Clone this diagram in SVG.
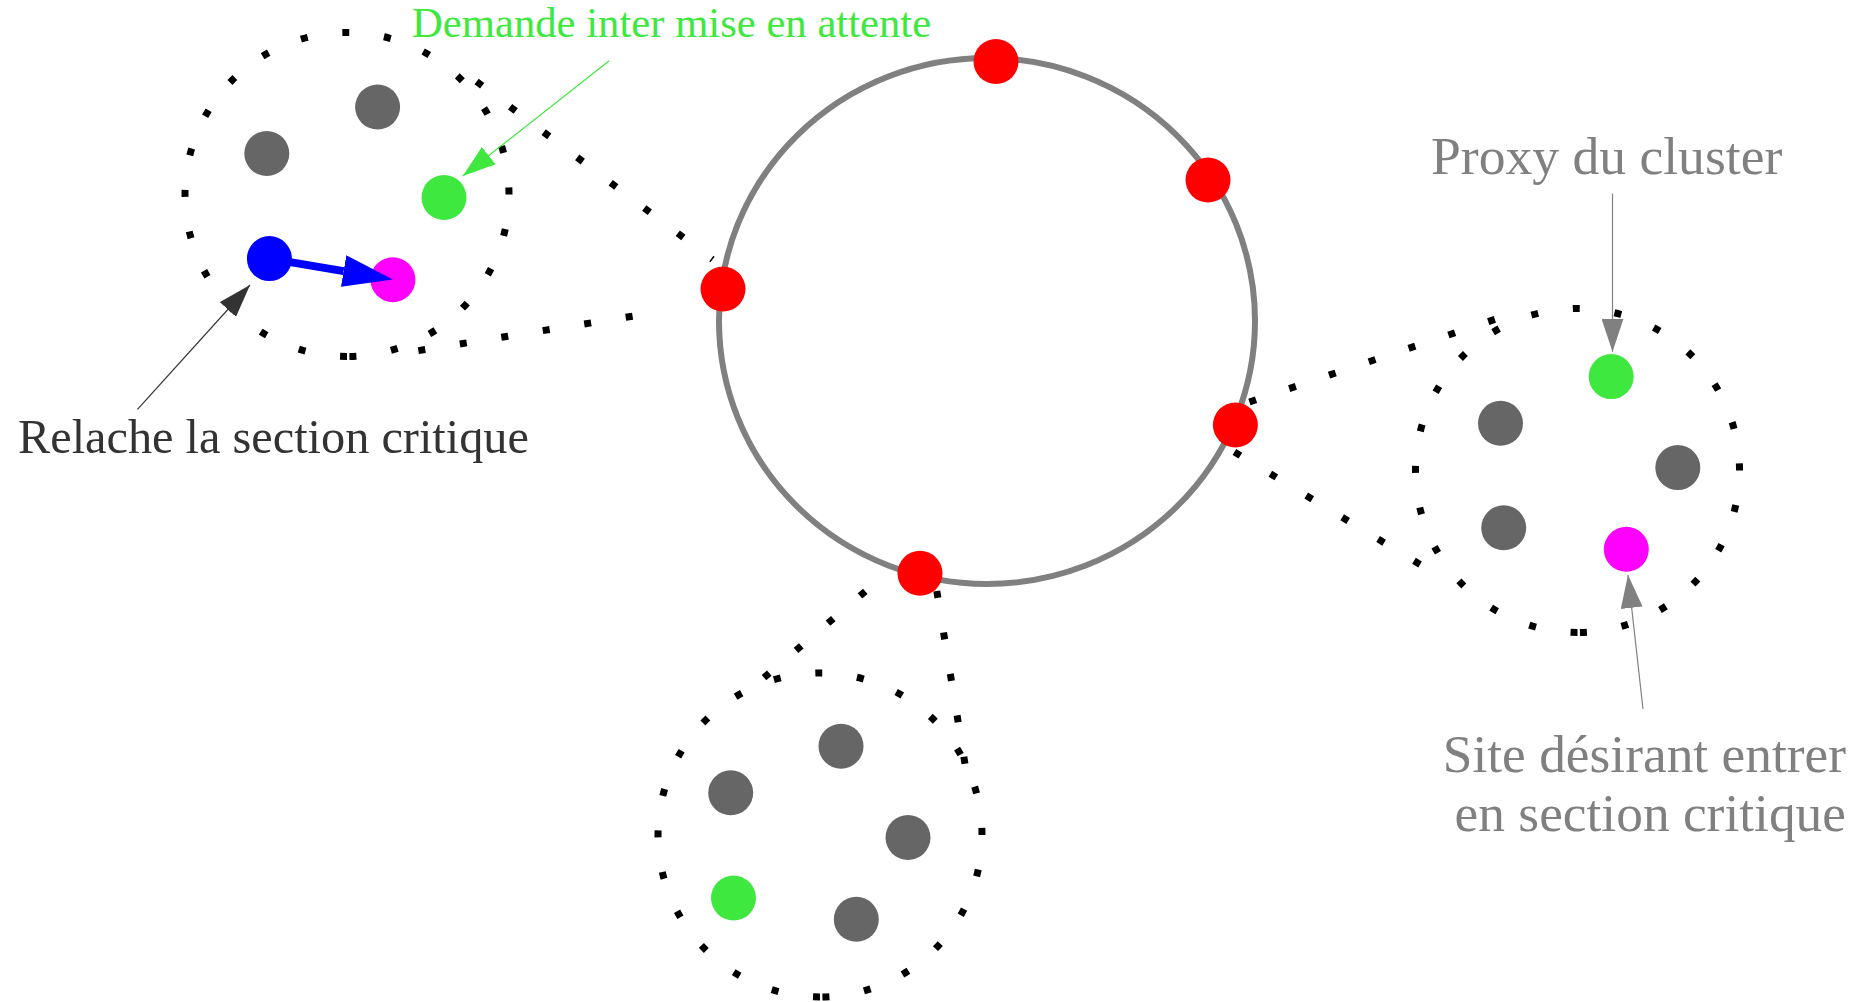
<svg xmlns="http://www.w3.org/2000/svg" width="1860" height="1002" viewBox="0 0 1860 1002">
  <style>
    .ring { fill: none; stroke: #808080; stroke-width: 6; }
    .dots { fill: none; stroke: #000; stroke-width: 7; stroke-dasharray: 7 35; }
    .ringnode { fill: #ff0000; }
    .site { fill: #666666; }
    .proxy { fill: #3ee83e; }
    .holder { fill: #0000ff; }
    .asker { fill: #ff00ff; }
    .label { font-family: "Liberation Serif", "Times New Roman", serif; }
  </style>
  <defs>
    <marker id="headGreen" viewBox="0 0 33 22" refX="33" refY="11" markerWidth="33" markerHeight="22" markerUnits="userSpaceOnUse" orient="auto">
      <path d="M0,0 L33,11 L0,22 Z" fill="#3ee83e"/>
    </marker>
    <marker id="headDark" viewBox="0 0 33 22" refX="33" refY="11" markerWidth="33" markerHeight="22" markerUnits="userSpaceOnUse" orient="auto">
      <path d="M0,0 L33,11 L0,22 Z" fill="#333333"/>
    </marker>
    <marker id="headGray" viewBox="0 0 33 22" refX="33" refY="11" markerWidth="33" markerHeight="22" markerUnits="userSpaceOnUse" orient="auto">
      <path d="M0,0 L33,11 L0,22 Z" fill="#808080"/>
    </marker>
    <marker id="headBlue" viewBox="0 0 50 32" refX="0" refY="16" markerWidth="50" markerHeight="32" markerUnits="userSpaceOnUse" orient="auto">
      <path d="M0,0 L50,16 L0,32 Z" fill="#0000ff"/>
    </marker>
  </defs>

  <!-- inter-cluster token ring -->
  <g id="ring">
    <ellipse class="ring" cx="987" cy="321" rx="268" ry="263"/>
  </g>

  <!-- cluster outlines: dotted circle plus two tangents to the proxy on the ring -->
  <g id="clusters">
    <g id="cluster-left">
      <path class="dots" d="M347,356.5 A162,162 0 1 1 347,32.5 A162,162 0 1 1 347,356.5"/>
      <path class="dots" d="M712.5,259.5 L472.6,78.5" stroke-dashoffset="5.5"/>
      <path class="dots" d="M632.6,316.2 L416,351"/>
    </g>
    <g id="cluster-right">
      <path class="dots" d="M1577.5,632.5 A162,162 0 1 1 1577.5,308.5 A162,162 0 1 1 1577.5,632.5"/>
      <path class="dots" d="M1249.4,402 L1497,318.6"/>
      <path class="dots" d="M1234.4,452 L1422,565.6"/>
    </g>
    <g id="cluster-bottom">
      <path class="dots" d="M820,997 A162,162 0 1 1 820,673 A162,162 0 1 1 820,997"/>
      <path class="dots" d="M865.3,591.4 L762.1,679.2"/>
      <path class="dots" d="M936.8,591 L965,764"/>
    </g>
  </g>

  <!-- nodes -->
  <g id="ring-node-top"><circle class="ringnode" cx="996" cy="61.5" r="22.5"/></g>
  <g id="ring-node-upper-right"><circle class="ringnode" cx="1208" cy="180" r="22.5"/></g>
  <g id="ring-node-left"><circle class="ringnode" cx="723" cy="289" r="22.5"/></g>
  <g id="ring-node-right"><circle class="ringnode" cx="1235.4" cy="425" r="22.5"/></g>
  <g id="ring-node-bottom"><circle class="ringnode" cx="920" cy="573.3" r="22.5"/></g>

  <g id="left-site-1"><circle class="site" cx="377.6" cy="107" r="22.5"/></g>
  <g id="left-site-2"><circle class="site" cx="266.8" cy="153.5" r="22.5"/></g>
  <g id="left-proxy"><circle class="proxy" cx="444" cy="197.5" r="22.5"/></g>
  <g id="left-holder"><circle class="holder" cx="269.4" cy="258.6" r="22.5"/></g>
  <g id="left-asker"><circle class="asker" cx="392.9" cy="279.7" r="22.5"/></g>

  <g id="right-proxy"><circle class="proxy" cx="1611.2" cy="376.6" r="22.5"/></g>
  <g id="right-site-1"><circle class="site" cx="1500.5" cy="423.3" r="22.5"/></g>
  <g id="right-site-2"><circle class="site" cx="1677.8" cy="467.6" r="22.5"/></g>
  <g id="right-site-3"><circle class="site" cx="1503.7" cy="527.8" r="22.5"/></g>
  <g id="right-asker"><circle class="asker" cx="1626.3" cy="549.3" r="22.5"/></g>

  <g id="bottom-site-1"><circle class="site" cx="841" cy="746.2" r="22.5"/></g>
  <g id="bottom-site-2"><circle class="site" cx="730.7" cy="792.8" r="22.5"/></g>
  <g id="bottom-site-3"><circle class="site" cx="908" cy="837.5" r="22.5"/></g>
  <g id="bottom-proxy"><circle class="proxy" cx="733.5" cy="898" r="22.5"/></g>
  <g id="bottom-site-4"><circle class="site" cx="856.3" cy="919.3" r="22.5"/></g>

  <!-- connectors: token hand-over and annotation pointers -->
  <g id="connectors">
    <line x1="269.4" y1="258.6" x2="343.6" y2="271.1" stroke="#0000ff" stroke-width="8" marker-end="url(#headBlue)"/>
    <line x1="609.2" y1="60.7" x2="462.8" y2="176" stroke="#3ee83e" stroke-width="1.2" marker-end="url(#headGreen)"/>
    <line x1="137.5" y1="409.3" x2="250" y2="285" stroke="#333333" stroke-width="1.2" marker-end="url(#headDark)"/>
    <line x1="1612.5" y1="193.6" x2="1612.5" y2="351.8" stroke="#808080" stroke-width="1.2" marker-end="url(#headGray)"/>
    <line x1="1643" y1="709" x2="1628" y2="575" stroke="#808080" stroke-width="1.2" marker-end="url(#headGray)"/>
  </g>

  <!-- labels -->
  <g id="labels" class="label">
    <text x="412" y="37" font-size="42.7" fill="#3ee83e">Demande inter mise en attente</text>
    <text x="18" y="453" font-size="48.3" fill="#333333">Relache la section critique</text>
    <text x="1431" y="174" font-size="53.6" fill="#808080">Proxy du cluster</text>
    <text x="1846" y="772" font-size="53.4" fill="#808080" text-anchor="end">Site désirant entrer</text>
    <text x="1846" y="831" font-size="53.4" fill="#808080" text-anchor="end">en section critique</text>
  </g>
</svg>
